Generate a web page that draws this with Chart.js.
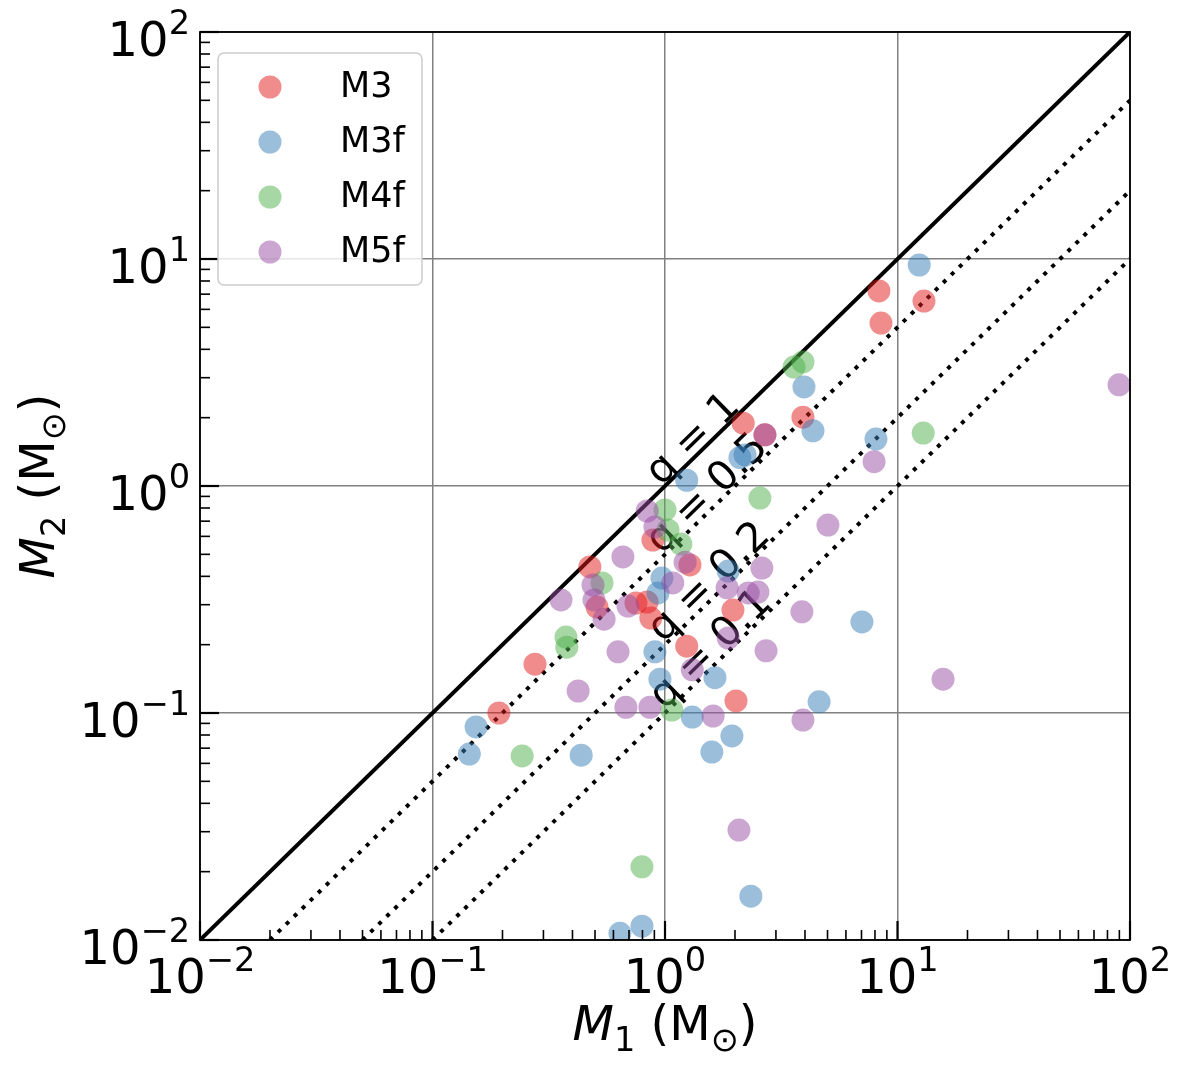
<!DOCTYPE html>
<html><head><meta charset="utf-8">
<script src="https://cdn.jsdelivr.net/npm/chart.js@4.4.0/dist/chart.umd.min.js"></script>
<style>html,body{margin:0;padding:0;background:#fff}canvas{display:block}</style>
</head><body>
<canvas id="c" width="1190" height="1070"></canvas>
<script>
// ---- data ----
const seriesNames = ['M3', 'M3f', 'M4f', 'M5f'];
const m3M1 = [8.32, 8.49, 13.0, 2.17, 2.69, 3.92, 0.887, 1.28, 0.475, 0.510, 0.750, 0.838, 0.869, 1.24, 1.96, 2.02, 0.276, 0.193];
const m3M2 = [7.23, 5.22, 6.53, 1.89, 1.68, 2.01, 0.578, 0.449, 0.440, 0.293, 0.305, 0.308, 0.262, 0.197, 0.284, 0.113, 0.164, 0.100];
const m3fM1 = [12.4, 3.96, 4.33, 8.08, 2.10, 2.21, 1.24, 1.87, 0.970, 0.933, 0.905, 0.951, 1.64, 1.31, 1.94, 1.59, 4.60, 7.03, 0.154, 0.144, 0.436, 2.34, 0.796, 0.640];
const m3fM2 = [9.41, 2.73, 1.75, 1.61, 1.335, 1.37, 1.06, 0.422, 0.393, 0.338, 0.186, 0.141, 0.143, 0.096, 0.0792, 0.0673, 0.112, 0.252, 0.0868, 0.0659, 0.0652, 0.0156, 0.0115, 0.0107];
const m4fM1 = [3.59, 3.92, 12.9, 2.56, 1.00, 1.03, 1.17, 0.536, 0.375, 0.378, 0.243, 1.07, 0.796];
const m4fM2 = [3.34, 3.52, 1.71, 0.885, 0.784, 0.640, 0.555, 0.374, 0.216, 0.195, 0.0647, 0.103, 0.021];
const m5fM1 = [2.69, 7.93, 5.02, 0.838, 0.905, 0.659, 1.22, 1.08, 0.490, 0.495, 0.547, 0.357, 0.693, 0.628, 0.423, 0.679, 0.861, 1.61, 3.92, 2.61, 1.85, 2.28, 2.51, 3.88, 1.87, 2.72, 1.31, 2.08, 89.7, 15.7];
const m5fM2 = [1.68, 1.28, 0.673, 0.776, 0.660, 0.487, 0.462, 0.374, 0.366, 0.315, 0.259, 0.315, 0.296, 0.186, 0.125, 0.106, 0.106, 0.097, 0.0931, 0.435, 0.356, 0.338, 0.341, 0.279, 0.214, 0.188, 0.155, 0.0305, 2.79, 0.141];
const qValues = [1, 0.5, 0.2, 0.1];
const qLabels = ['q = 1', 'q = 0.5', 'q = 0.2', 'q = 0.1'];
const axisMin = 0.01, axisMax = 100;
const decadeTicks = [0.01, 0.1, 1, 10, 100];
const tickExponents = ['\u22122', '\u22121', '0', '1', '2'];

// ---- style ----
const colors = ['rgba(228,26,28,0.5)', 'rgba(55,126,184,0.5)', 'rgba(77,175,74,0.5)', 'rgba(152,78,163,0.5)'];
const FONT = '"DejaVu Sans", sans-serif';
const qLabelX = [1.33, 1.53, 1.56, 1.58];
const qLabelLift = 1.2;

const xs = [m3M1, m3fM1, m4fM1, m5fM1];
const ys = [m3M2, m3fM2, m4fM2, m5fM2];

const datasets = [];
seriesNames.forEach((name, i) => {
  datasets.push({
    label: name,
    data: xs[i].map((v, j) => ({x: v, y: ys[i][j]})),
    backgroundColor: colors[i],
    borderWidth: 0,
    pointRadius: 11.5,
    pointHoverRadius: 11.5,
    showLine: false,
    clip: 0,
    order: 4 - i
  });
});
qValues.forEach((q, i) => {
  const x0 = Math.max(axisMin, axisMin / q);
  datasets.push({
    label: qLabels[i],
    data: [{x: x0, y: q * x0}, {x: axisMax, y: q * axisMax}],
    showLine: true,
    borderColor: '#000',
    borderWidth: q === 1 ? 4 : 4,
    borderDash: q === 1 ? [] : [4, 7.2],
    borderCapStyle: 'butt',
    pointRadius: 0,
    fill: false,
    clip: 0,
    order: 10
  });
});

function setFont(ctx, size, italic) { ctx.font = (italic ? 'italic ' : '') + size + 'px ' + FONT; }
function layoutRich(ctx, parts, size, supShift) {
  let w = 0; const items = [];
  for (const p of parts) {
    const s = (p.sub || p.sup) ? size * 0.7 : size;
    setFont(ctx, s, p.it);
    const pw = ctx.measureText(p.t).width;
    const dy = p.sub ? size * 0.22 : (p.sup ? -size * (supShift || 0.45) : 0);
    items.push({t: p.t, s: s, it: p.it, x: w, dy: dy});
    w += pw;
  }
  return {items: items, w: w};
}
function drawRich(ctx, parts, x, y, size, align) {
  const L = layoutRich(ctx, parts, size);
  const x0 = align === 'center' ? x - L.w / 2 : (align === 'right' ? x - L.w : x);
  ctx.textAlign = 'left'; ctx.textBaseline = 'alphabetic'; ctx.fillStyle = '#000';
  for (const it of L.items) { setFont(ctx, it.s, it.it); ctx.fillText(it.t, x0 + it.x, y + it.dy); }
}

const annot = {
  id: 'annot',
  beforeDatasetsDraw(chart) {
    const ctx = chart.ctx, sx = chart.scales.x, sy = chart.scales.y;
    const ang = Math.atan2(sy.getPixelForValue(10) - sy.getPixelForValue(1), sx.getPixelForValue(10) - sx.getPixelForValue(1));
    ctx.save();
    qValues.forEach((q, i) => {
      const cx = sx.getPixelForValue(qLabelX[i]);
      const cy = sy.getPixelForValue(qLabelLift * q * qLabelX[i]);
      ctx.save();
      ctx.translate(cx, cy);
      ctx.rotate(ang);
      ctx.fillStyle = '#000';
      setFont(ctx, 41, false);
      ctx.textAlign = 'center'; ctx.textBaseline = 'middle';
      ctx.fillText(qLabels[i], 0, 0);
      ctx.restore();
    });
    ctx.restore();
  },
  afterDraw(chart) {
    const ctx = chart.ctx, sx = chart.scales.x, sy = chart.scales.y, a = chart.chartArea;
    ctx.save();
    // spines
    ctx.strokeStyle = '#000'; ctx.lineWidth = 1.8;
    ctx.strokeRect(a.left, a.top, a.right - a.left, a.bottom - a.top);
    // ticks (inward, left and bottom)
    ctx.lineCap = 'butt';
    for (let d = 0; d < decadeTicks.length; d++) {
      const dv = decadeTicks[d];
      const px = sx.getPixelForValue(dv), py = sy.getPixelForValue(dv);
      ctx.lineWidth = 2.2;
      ctx.beginPath(); ctx.moveTo(px, a.bottom); ctx.lineTo(px, a.bottom - 19); ctx.stroke();
      ctx.beginPath(); ctx.moveTo(a.left, py); ctx.lineTo(a.left + 19, py); ctx.stroke();
      if (d < decadeTicks.length - 1) {
        ctx.lineWidth = 1.6;
        for (let k = 2; k <= 9; k++) {
          const mx = sx.getPixelForValue(k * dv), my = sy.getPixelForValue(k * dv);
          ctx.beginPath(); ctx.moveTo(mx, a.bottom); ctx.lineTo(mx, a.bottom - 10); ctx.stroke();
          ctx.beginPath(); ctx.moveTo(a.left, my); ctx.lineTo(a.left + 10, my); ctx.stroke();
        }
      }
      // tick labels
      const parts = [{t: '10'}, {t: tickExponents[d], sup: true}];
      drawRich(ctx, parts, px, a.bottom + 53, 48, 'center');
      drawRich(ctx, parts, a.left - 10, py + 24, 48, 'right');
    }
    // axis titles
    drawRich(ctx, [{t: 'M', it: true}, {t: '1', sub: true}, {t: ' (M'}, {t: '\u2299', sub: true}, {t: ')'}], (a.left + a.right) / 2, 1040, 48, 'center');
    ctx.save();
    ctx.translate(54, (a.top + a.bottom) / 2);
    ctx.rotate(-Math.PI / 2);
    drawRich(ctx, [{t: 'M', it: true}, {t: '2', sub: true}, {t: ' (M'}, {t: '\u2299', sub: true}, {t: ')'}], 0, 0, 48, 'center');
    ctx.restore();
    // legend
    const lx = 218, ly = 53, lw = 204, lh = 232, r = 6;
    ctx.beginPath();
    ctx.moveTo(lx + r, ly); ctx.lineTo(lx + lw - r, ly); ctx.arcTo(lx + lw, ly, lx + lw, ly + r, r);
    ctx.lineTo(lx + lw, ly + lh - r); ctx.arcTo(lx + lw, ly + lh, lx + lw - r, ly + lh, r);
    ctx.lineTo(lx + r, ly + lh); ctx.arcTo(lx, ly + lh, lx, ly + lh - r, r);
    ctx.lineTo(lx, ly + r); ctx.arcTo(lx, ly, lx + r, ly, r); ctx.closePath();
    ctx.fillStyle = 'rgba(255,255,255,0.8)'; ctx.fill();
    ctx.strokeStyle = '#cccccc'; ctx.lineWidth = 1.5; ctx.stroke();
    seriesNames.forEach((name, i) => {
      const my = 87 + i * 55;
      ctx.beginPath(); ctx.arc(270, my, 11.5, 0, Math.PI * 2); ctx.fillStyle = colors[i]; ctx.fill();
      ctx.fillStyle = '#000'; setFont(ctx, 35, false); ctx.textAlign = 'left'; ctx.textBaseline = 'alphabetic';
      ctx.fillText(name, 340, my + 10);
    });
    ctx.restore();
  }
};

const isDecade = v => Math.abs(Math.log10(v) - Math.round(Math.log10(v))) < 1e-6;
const gridColor = c => (c.tick && isDecade(c.tick.value)) ? '#808080' : 'rgba(0,0,0,0)';

new Chart(document.getElementById('c').getContext('2d'), {
  type: 'scatter',
  data: {datasets: datasets},
  options: {
    responsive: false, animation: false, devicePixelRatio: 1, events: [],
    layout: {padding: {left: 200, right: 60, top: 32, bottom: 130}},
    plugins: {legend: {display: false}, tooltip: {enabled: false}},
    scales: {
      x: {type: 'logarithmic', min: axisMin, max: axisMax, ticks: {display: false},
          grid: {drawTicks: false, color: gridColor, lineWidth: 1.5}, border: {display: false}},
      y: {type: 'logarithmic', min: axisMin, max: axisMax, ticks: {display: false},
          grid: {drawTicks: false, color: gridColor, lineWidth: 1.5}, border: {display: false}}
    }
  },
  plugins: [annot]
});
</script>
</body></html>
